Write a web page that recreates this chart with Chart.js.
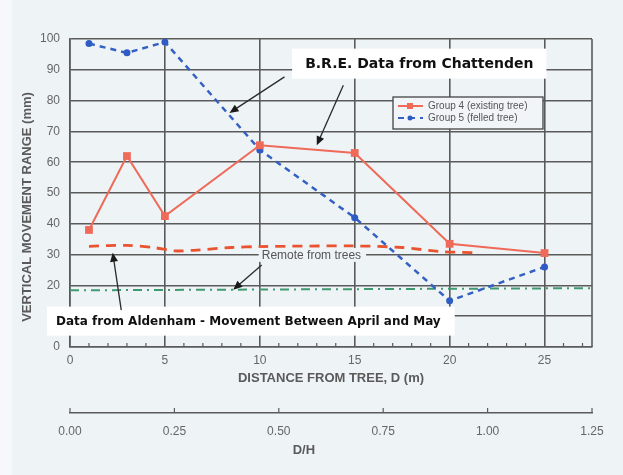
<!DOCTYPE html>
<html>
<head>
<meta charset="utf-8">
<script src="https://cdn.jsdelivr.net/npm/chart.js@4.4.1/dist/chart.umd.min.js"></script>
<style>
  body { margin: 0; background: #eef3f6; }
  #wrap { width: 623px; height: 475px; }
</style>
</head>
<body>
<div id="wrap"><canvas id="chart" width="623" height="475"></canvas></div>
<script>
// distance from tree D (m)
const distances = [1, 3, 5, 10, 15, 20, 25];
// B.R.E. Chattenden, vertical movement range (mm)
const group4 = [38, 62, 42.5, 65.5, 63, 33.5, 30.5];
const group5 = [98.5, 95.5, 99, 64, 42, 15, 26];

// Aldenham, movement between April and May
const aldenhamX = [1, 3, 4.5, 5.5, 6.5, 8.5, 10, 15, 17.5, 19.5, 21.5];
const aldenhamY = [32.7, 33, 32.2, 31.2, 31.4, 32.3, 32.6, 32.8, 32.3, 31, 30.6];

// remote from trees
const remoteX = [0, 27.5];
const remoteY = [18.4, 19.1];

const xTicks = [0, 5, 10, 15, 20, 25];
const yTicks = [0, 10, 20, 30, 40, 50, 60, 70, 80, 90, 100];
const dhTicks = [0, 0.25, 0.5, 0.75, 1, 1.25];

const gridColor = "#5a5a5a";
const textColor = "#5a5a5a";

function pts(xs, ys) {
  return xs.map((x, i) => ({ x: x, y: ys[i] }));
}

function setTicks(list) {
  return (scale) => { scale.ticks = list.map(v => ({ value: v })); };
}

// arrow helper, coords in data units
function arrow(ctx, chart, x1, y1, x2, y2) {
  const sx = chart.scales.x, sy = chart.scales.y;
  const ax = sx.getPixelForValue(x1), ay = sy.getPixelForValue(y1);
  const bx = sx.getPixelForValue(x2), by = sy.getPixelForValue(y2);
  const ang = Math.atan2(by - ay, bx - ax);
  ctx.save();
  ctx.strokeStyle = "#2a2a2a";
  ctx.fillStyle = "#1a1a1a";
  ctx.lineWidth = 1.3;
  ctx.beginPath();
  ctx.moveTo(ax, ay);
  ctx.lineTo(bx - 6 * Math.cos(ang), by - 6 * Math.sin(ang));
  ctx.stroke();
  ctx.beginPath();
  ctx.moveTo(bx, by);
  ctx.lineTo(bx - 9 * Math.cos(ang) + 4 * Math.sin(ang), by - 9 * Math.sin(ang) - 4 * Math.cos(ang));
  ctx.lineTo(bx - 9 * Math.cos(ang) - 4 * Math.sin(ang), by - 9 * Math.sin(ang) + 4 * Math.cos(ang));
  ctx.closePath();
  ctx.fill();
  ctx.restore();
}

function label(ctx, chart, text, x, y, opts) {
  const sx = chart.scales.x, sy = chart.scales.y;
  const px = sx.getPixelForValue(x), py = sy.getPixelForValue(y);
  ctx.save();
  ctx.font = opts.font;
  const w = ctx.measureText(text).width;
  const left = opts.align === "center" ? px - w / 2 : px;
  ctx.fillStyle = opts.bg;
  ctx.fillRect(left - opts.padL, py - opts.h / 2, w + opts.padL + opts.padR, opts.h);
  ctx.fillStyle = opts.color;
  ctx.textBaseline = "middle";
  ctx.textAlign = "left";
  ctx.fillText(text, left, py + 1);
  ctx.restore();
}

const decorPlugin = {
  id: "decor",
  beforeDraw(chart) {
    const ctx = chart.ctx;
    ctx.save();
    ctx.fillStyle = "#eef3f6";
    ctx.fillRect(0, 0, chart.width, chart.height);
    ctx.fillStyle = "#f6f8f9";
    ctx.fillRect(0, 0, 12, chart.height);
    ctx.restore();
  },
  beforeDatasetsDraw(chart) {
    const ctx = chart.ctx;
    const area = chart.chartArea;
    const sx = chart.scales.x;
    ctx.save();
    ctx.strokeStyle = gridColor;
    ctx.lineWidth = 1.6;
    // right frame
    ctx.beginPath();
    ctx.moveTo(area.right, area.top);
    ctx.lineTo(area.right, area.bottom);
    ctx.stroke();
    // minor ticks every metre
    ctx.lineWidth = 1.2;
    for (let v = 1; v < 27.5; v++) {
      if (v % 5 === 0) continue;
      const p = sx.getPixelForValue(v);
      ctx.beginPath();
      ctx.moveTo(p, area.bottom);
      ctx.lineTo(p, area.bottom - 4);
      ctx.stroke();
    }
    // D/H axis ticks pointing up
    const sd = chart.scales.xdh;
    dhTicks.forEach(v => {
      const p = sd.getPixelForValue(v);
      ctx.beginPath();
      ctx.moveTo(p, sd.top);
      ctx.lineTo(p, sd.top - 5);
      ctx.stroke();
    });
    ctx.restore();
  },
  afterDraw(chart) {
    const ctx = chart.ctx;
    const area = chart.chartArea;

    // y axis title
    ctx.save();
    ctx.translate(27, (area.top + area.bottom) / 2 + 14);
    ctx.rotate(-Math.PI / 2);
    ctx.font = "bold 13px 'Liberation Sans', Arial, sans-serif";
    ctx.fillStyle = textColor;
    ctx.textAlign = "center";
    ctx.textBaseline = "middle";
    ctx.fillText("VERTICAL MOVEMENT RANGE (mm)", 0, 0);
    ctx.restore();

    // D/H title
    ctx.save();
    ctx.font = "bold 13px 'Liberation Sans', Arial, sans-serif";
    ctx.fillStyle = textColor;
    ctx.textAlign = "center";
    ctx.textBaseline = "middle";
    ctx.fillText("D/H", chart.scales.xdh.getPixelForValue(0.56), 450);
    ctx.restore();

    // annotations
    label(ctx, chart, "B.R.E. Data from Chattenden", 18.4, 92, {
      font: "bold 14px 'DejaVu Sans', Verdana, sans-serif",
      align: "center", bg: "#ffffff", color: "#111111", padL: 13, padR: 13, h: 30
    });
    arrow(ctx, chart, 11.3, 87.7, 8.4, 76);
    arrow(ctx, chart, 14.4, 85, 13.0, 65.5);

    label(ctx, chart, "Remote from trees", 10.1, 29.9, {
      font: "12px 'Liberation Sans', Arial, sans-serif",
      align: "left", bg: "#eef3f6", color: "#555555", padL: 3, padR: 5, h: 14
    });
    arrow(ctx, chart, 10.1, 26.6, 8.6, 18.6);

    label(ctx, chart, "Data from Aldenham - Movement Between April and May", -0.74, 8.4, {
      font: "bold 12px 'DejaVu Sans', Verdana, sans-serif",
      align: "left", bg: "#ffffff", color: "#111111", padL: 9, padR: 14, h: 29
    });
    arrow(ctx, chart, 2.7, 12, 2.25, 30.6);

    // legend box
    const ds = chart.data.datasets;
    const lx = area.right - 199, ly = area.top + 58;
    ctx.save();
    ctx.fillStyle = "#f1f5f7";
    ctx.fillRect(lx, ly, 150, 32);
    ctx.strokeStyle = "#444444";
    ctx.lineWidth = 1.3;
    ctx.strokeRect(lx, ly, 150, 32);
    [0, 1].forEach(i => {
      const d = ds[i];
      const yy = ly + 9 + i * 12;
      ctx.strokeStyle = d.borderColor;
      ctx.lineWidth = 2;
      ctx.setLineDash(d.borderDash || []);
      ctx.beginPath();
      ctx.moveTo(lx + 5, yy);
      ctx.lineTo(lx + 30, yy);
      ctx.stroke();
      ctx.setLineDash([]);
      ctx.fillStyle = d.backgroundColor;
      if (d.pointStyle === "rect") {
        ctx.fillRect(lx + 14, yy - 3, 6, 6);
      } else {
        ctx.beginPath();
        ctx.arc(lx + 17, yy, 2.5, 0, Math.PI * 2);
        ctx.fill();
      }
      ctx.fillStyle = "#555555";
      ctx.font = "10px 'Liberation Sans', Arial, sans-serif";
      ctx.textBaseline = "middle";
      ctx.fillText(d.label, lx + 35, yy + 0.5);
    });
    ctx.restore();
  }
};

const tickFont = { family: "'Liberation Sans', Arial, sans-serif", size: 12 };

new Chart(document.getElementById("chart"), {
  type: "line",
  data: {
    datasets: [
      {
        label: "Group 4 (existing tree)",
        data: pts(distances, group4),
        borderColor: "#ef6a58",
        backgroundColor: "#ef6a58",
        borderWidth: 2,
        pointStyle: "rect",
        pointRadius: 5.5,
        pointBorderWidth: 0,
        tension: 0
      },
      {
        label: "Group 5 (felled tree)",
        data: pts(distances, group5),
        borderColor: "#3360c2",
        backgroundColor: "#2f5cc4",
        borderWidth: 2.5,
        borderDash: [6, 5],
        pointStyle: "circle",
        pointRadius: 3.5,
        pointBorderWidth: 0,
        tension: 0
      },
      {
        label: "Aldenham",
        data: pts(aldenhamX, aldenhamY),
        borderColor: "#ea532f",
        borderWidth: 2.8,
        borderDash: [10, 7],
        pointRadius: 0,
        tension: 0.3
      },
      {
        label: "Remote from trees",
        data: pts(remoteX, remoteY),
        borderColor: "#3f9a72",
        borderWidth: 2,
        borderDash: [9, 5, 2, 5],
        pointRadius: 0
      }
    ]
  },
  options: {
    responsive: false,
    animation: false,
    layout: { padding: { top: 39, right: 31, left: 0, bottom: 0 } },
    plugins: { legend: { display: false }, tooltip: { enabled: false } },
    scales: {
      x: {
        type: "linear",
        position: "bottom",
        min: 0,
        max: 27.5,
        afterBuildTicks: setTicks(xTicks),
        afterFit: (s) => { s.height = 66; },
        grid: { color: gridColor, lineWidth: 1.6, drawTicks: false },
        border: { color: gridColor, width: 1.6 },
        ticks: { color: "#666666", font: tickFont, padding: 6, maxRotation: 0 },
        title: {
          display: true,
          text: "DISTANCE FROM TREE, D (m)",
          color: textColor,
          font: { family: "'Liberation Sans', Arial, sans-serif", size: 13, weight: "bold" },
          padding: { top: 0, bottom: 27 }
        }
      },
      xdh: {
        type: "linear",
        position: "bottom",
        min: 0,
        max: 1.25,
        afterBuildTicks: setTicks(dhTicks),
        afterFit: (s) => { s.height = 62; },
        grid: { display: false, drawTicks: false },
        border: { display: true, color: gridColor, width: 1.6 },
        ticks: {
          color: "#666666", font: tickFont, padding: 11, maxRotation: 0,
          callback: (v) => Number(v).toFixed(2)
        }
      },
      y: {
        min: 0,
        max: 100,
        afterBuildTicks: setTicks(yTicks),
        afterFit: (s) => { s.width = 70; },
        grid: { color: gridColor, lineWidth: 1.6, drawTicks: false },
        border: { color: gridColor, width: 1.6 },
        ticks: { color: "#666666", font: tickFont, padding: 10 }
      }
    }
  },
  plugins: [decorPlugin]
});
</script>
</body>
</html>
